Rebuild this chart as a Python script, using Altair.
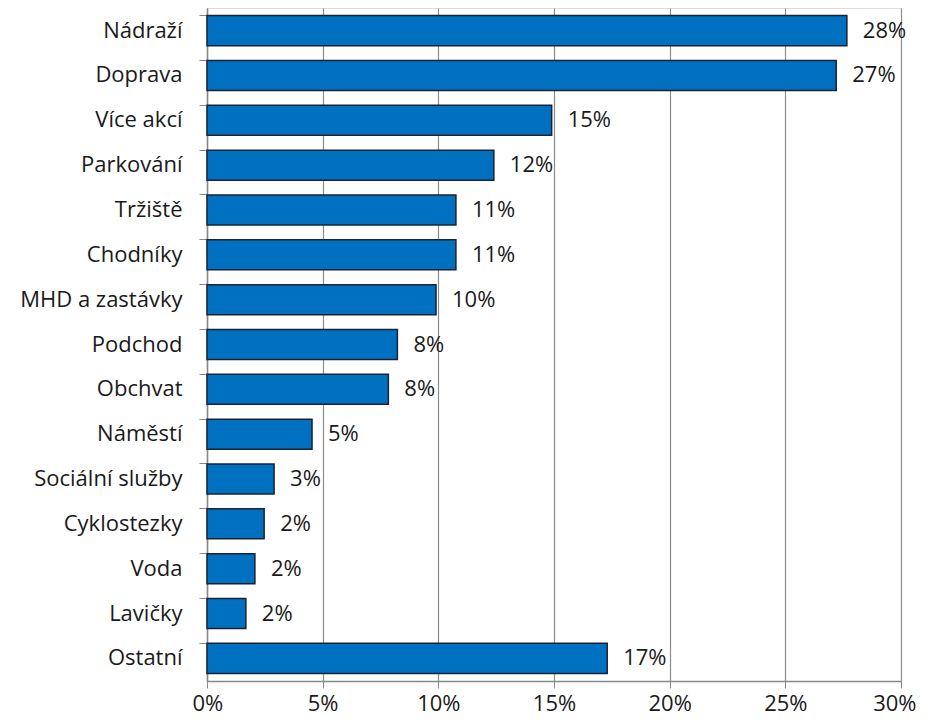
import altair as alt
import pandas as pd

categories = ["Nádraží", "Doprava", "Více akcí", "Parkování", "Tržiště", "Chodníky",
              "MHD a zastávky", "Podchod", "Obchvat", "Náměstí", "Sociální služby",
              "Cyklostezky", "Voda", "Lavičky", "Ostatní"]
values = [27.66, 27.2, 14.9, 12.4, 10.76, 10.76, 9.9, 8.23, 7.84, 4.54, 2.9, 2.47, 2.07, 1.68, 17.3]
labels = ["28%", "27%", "15%", "12%", "11%", "11%", "10%", "8%", "8%", "5%", "3%", "2%", "2%", "2%", "17%"]
x_ticks = [0, 0.05, 0.10, 0.15, 0.20, 0.25, 0.30]

df = pd.DataFrame({"cat": categories, "val": [v / 100 for v in values], "lab": labels})

FONT = "Open Sans"
FS = 22

y_enc = alt.Y("cat:N", sort=categories, title=None,
              scale=alt.Scale(paddingInner=0.33, paddingOuter=0.17),
              axis=alt.Axis(bandPosition=0, labelFontSize=FS, labelFont=FONT,
                            labelColor="#1a1a1a", tickSize=8, labelPadding=17,
                            domainColor="#888888", tickColor="#888888",
                            domainWidth=1.5, grid=False))

bars = alt.Chart(df).mark_bar(color="#0070C0", stroke="#1a2233", strokeWidth=1.5).encode(
    x=alt.X("val:Q", title=None,
            scale=alt.Scale(domain=[0, 0.30], nice=False),
            axis=alt.Axis(values=x_ticks, format=".0%", labelFontSize=FS, labelFont=FONT,
                          labelColor="#1a1a1a", tickSize=7, labelPadding=5,
                          domainColor="#888888", tickColor="#888888",
                          gridColor="#8c8c8c", gridWidth=1.2, domainWidth=1.5,
                          labelFlush=True, labelFlushOffset=15)),
    y=y_enc,
)

text = alt.Chart(df).mark_text(align="left", baseline="middle", dx=16, fontSize=FS,
                               font=FONT, color="#1a1a1a").encode(
    x="val:Q",
    y=alt.Y("cat:N", sort=categories),
    text="lab:N",
)

chart = (bars + text).properties(
    width=694, height=673,
    autosize=alt.AutoSizeParams(type="none"),
    padding={"left": 199, "top": 0, "right": 18, "bottom": 35},
).configure_view(stroke=None).configure(background="white")

chart.save("out.html", embed_options={"renderer": "svg", "actions": False})
